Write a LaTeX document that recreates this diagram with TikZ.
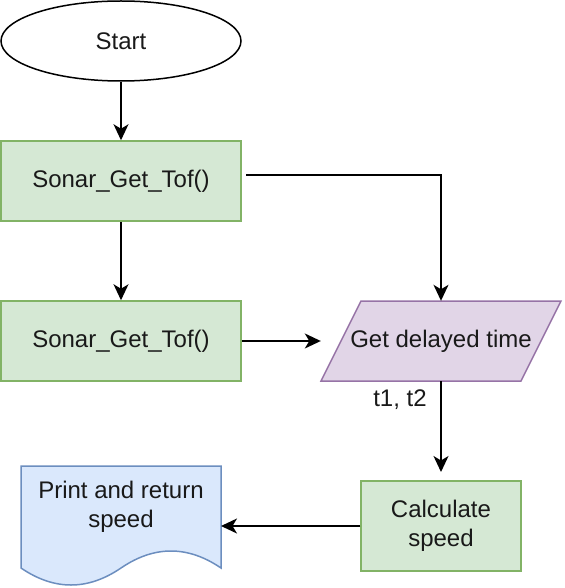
\documentclass[tikz,border=0pt]{standalone}
\usepackage{fontspec}
\setmainfont{Liberation Sans}
\usetikzlibrary{shapes.geometric,arrows.meta}
\definecolor{gfill}{HTML}{D5E8D4}
\definecolor{gline}{HTML}{82B366}
\definecolor{pfill}{HTML}{E1D5E7}
\definecolor{pline}{HTML}{9673A6}
\definecolor{bfill}{HTML}{DAE8FC}
\definecolor{bline}{HTML}{6C8EBF}
\begin{document}
\begin{tikzpicture}[x=1pt,y=-1pt,
  every node/.style={font=\fontsize{24}{29.5}\selectfont, text=black!90},
  proc/.style={draw=gline, fill=gfill, line width=1.5pt, minimum width=240pt, minimum height=80pt, inner sep=0pt},
  arr/.style={line width=1.6pt, -{Stealth[length=16pt,width=15pt,inset=4.5pt]}},
]
\useasboundingbox (0,0) rectangle (564,588);
% start
\node[ellipse, draw, line width=1.5pt, minimum width=240pt, minimum height=80pt, inner sep=0pt] (start) at (121,41) {Start};
% process boxes
\node[proc] (box1) at (121,181) {Sonar\_Get\_Tof()};
\node[proc] (box2) at (121,341) {Sonar\_Get\_Tof()};
% parallelogram
\draw[draw=pline, fill=pfill, line width=1.5pt] (361,301) -- (561,301) -- (521,381) -- (321,381) -- cycle;
\node[minimum width=240pt, minimum height=80pt, inner sep=0pt] (para) at (441,341) {Get delayed time};
% calculate
\node[proc, minimum width=160pt, minimum height=90pt, align=center] (calc) at (441,526) {Calculate\\speed};
% document
\draw[draw=bline, fill=bfill, line width=1.5pt] (21,466) -- (221,466) -- (221,568)
  .. controls (187.67,545.33) and (154.33,545.33) .. (121,568)
  .. controls (87.67,590.67) and (54.33,590.67) .. (21,568) -- cycle;
\node[minimum width=200pt, minimum height=120pt, inner sep=0pt, outer sep=0pt] (doc) at (121,526) {};
\node[align=center] (doctxt) at (121,507) {Print and return\\speed};
% label
\node (lbl) at (400,400) {t1, t2};
% connectors
\coordinate (b1r) at (246,175);
\coordinate (calcin) at (441,472);
\draw[arr] (start) -- (box1);
\draw[arr] (box1) -- (box2);
\draw[arr] (b1r) -| (para.north);
\draw[arr] (box2) -- (para.west);
\draw[arr] (para.south) -- (calcin);
\draw[arr] (calc.west) -- (doc.east);
\end{tikzpicture}
\end{document}
